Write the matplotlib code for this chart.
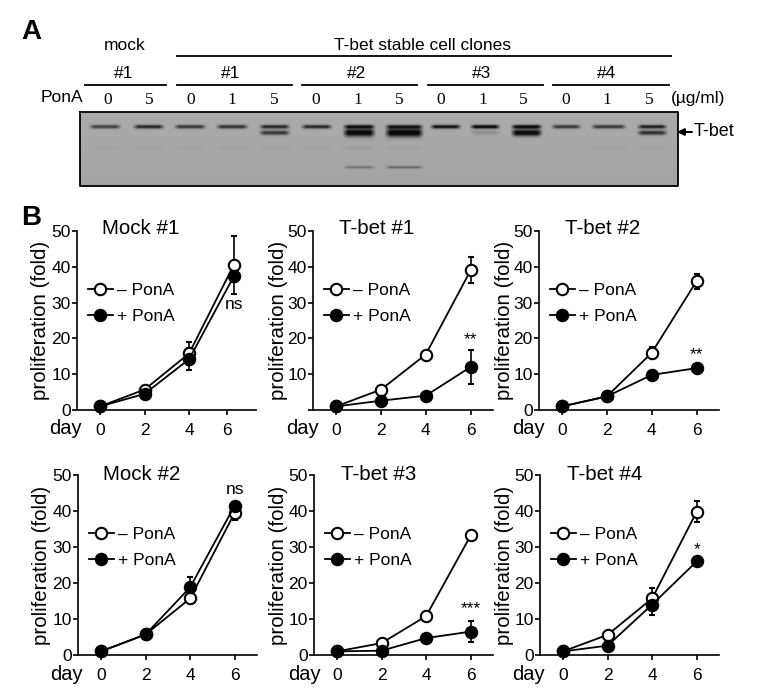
import numpy as np
import matplotlib
matplotlib.use('Agg')
import matplotlib.pyplot as plt

plt.rcParams['font.family'] = ['Liberation Sans', 'DejaVu Sans']

W, H = 759, 698

days = [0, 2, 4, 6]
panel_names = ['Mock #1', 'T-bet #1', 'T-bet #2', 'Mock #2', 'T-bet #3', 'T-bet #4']

minus_vals = [[1, 5.7, 15.8, 40.5], [1, 5.7, 15.5, 39], [1, 3.8, 16, 36],
              [1, 5.7, 15.7, 39.5], [1, 3.3, 10.8, 33.2], [1, 5.6, 15.7, 39.8]]
minus_err = [[0, 0.6, 3.3, 8.2], [0, 0.5, 0.6, 3.6], [0, 0.3, 1.6, 2.1],
             [0, 0.3, 1.2, 2.1], [0, 0.3, 0.6, 0.4], [0, 0.5, 2.8, 2.9]]
plus_vals = [[1, 4.5, 14.2, 37.3], [1, 2.6, 4, 12], [1, 3.8, 9.8, 11.7],
             [1, 5.7, 18.8, 41.5], [1, 1.2, 4.7, 6.5], [1, 2.6, 14, 26]]
plus_err = [[0, 0.3, 3.0, 1.5], [0, 0.3, 0.4, 4.7], [0, 0.3, 0.5, 0.5],
            [0, 0.3, 3.0, 0.5], [0, 0.3, 0.4, 2.9], [0, 0.4, 2.9, 0.6]]
sig_labels = ['ns', '**', '**', 'ns', '***', '*']
sig_y = [29.6, 19.6, 15.4, 46.1, 12.8, 29.4]

# blot: lane x ranges and band darkness
lane_left = [88, 132, 173, 215, 258, 300, 342, 384, 429, 469, 510, 550, 590, 636]
lane_right = [122, 165, 207, 249, 291, 333, 376, 424, 462, 501, 543, 582, 627, 668]
upper_band = [0.6, 0.75, 0.65, 0.7, 0.75, 0.75, 0.9, 0.8, 0.9, 1.0, 1.0, 0.65, 0.65, 0.8]
lower_band = [0, 0, 0, 0, 0.65, 0, 1.0, 1.0, 0, 0.14, 1.0, 0, 0, 0.7]
lower_thick = [1, 1, 1, 1, 1.2, 1, 2.0, 2.2, 1, 1.2, 1.7, 1, 1, 1.2]
smear_band = [0.03, 0.04, 0.03, 0.04, 0.04, 0.04, 0.06, 0.04, 0, 0, 0, 0, 0.04, 0.04]
low_band = [0, 0, 0, 0, 0, 0, 0.28, 0.35, 0, 0, 0, 0, 0, 0]

dose_labels = ['0', '5', '0', '1', '5', '0', '1', '5', '0', '1', '5', '0', '1', '5']
dose_x = [108, 149, 191, 232, 274, 316, 358, 399, 441, 483, 523, 566, 607, 649]
clone_labels = ['#1', '#1', '#2', '#3', '#4']
clone_x = [124, 231, 357, 482, 607]
clone_left = [85, 177, 302, 428, 553]
clone_right = [166, 292, 417, 543, 669]


def make_blot():
    ys = np.arange(112, 186, 0.5)
    xs = np.arange(80, 678, 0.5)
    img = np.full((len(ys), len(xs)), 0.67)
    img -= 0.03 * (ys[:, None] - 112) / 74
    for i in range(len(lane_left)):
        edge = np.clip((xs - lane_left[i]) / 6, 0, 1) * np.clip((lane_right[i] - xs) / 6, 0, 1)
        for dark, yc, sig in [(upper_band[i], 126.5, 1.3),
                              (lower_band[i], 132.5, 1.3 * lower_thick[i]),
                              (smear_band[i], 147.5, 1.5),
                              (low_band[i], 167, 0.9)]:
            if dark > 0:
                img -= 0.72 * dark * np.outer(np.exp(-(ys - yc) ** 2 / (2 * sig ** 2)), edge)
    return np.clip(img, 0.05, 1)


def px_axes(left, right, top, bottom):
    return fig.add_axes([left / W, 1 - bottom / H, (right - left) / W, (bottom - top) / H])


fig = plt.figure(figsize=(W / 100, H / 100), dpi=100)

# panel A, laid out in pixels
top = fig.add_axes([0, 0, 1, 1])
top.imshow(make_blot(), cmap='gray', vmin=0, vmax=1, extent=(80, 678, 186, 112),
           aspect='auto', interpolation='bilinear')
top.set_xlim(0, W)
top.set_ylim(H, 0)
top.axis('off')
top.plot([80, 678, 678, 80, 80], [112, 112, 186, 186, 112], color='black', lw=1.3)

top.text(21, 32, 'A', fontsize=20, fontweight='bold', va='center')
top.text(21, 218, 'B', fontsize=20, fontweight='bold', va='center')
top.text(125, 45, 'mock', fontsize=12.5, ha='center', va='center')
top.text(422, 45, 'T-bet stable cell clones', fontsize=12.5, ha='center', va='center')
top.plot([177, 671], [56, 56], color='black', lw=1.3)
for i in range(len(clone_labels)):
    top.text(clone_x[i], 74, clone_labels[i], fontsize=12.5, ha='center', va='center')
    top.plot([clone_left[i], clone_right[i]], [85, 85], color='black', lw=1.3)
top.text(41, 98, 'PonA', fontsize=12.5, va='center')
for i in range(len(dose_labels)):
    top.text(dose_x[i], 100, dose_labels[i], fontsize=12.5, family='Liberation Serif',
             ha='center', va='center')
top.text(671, 99, '(\u00b5g/ml)', fontsize=12.5, va='center')
top.text(694, 132, 'T-bet', fontsize=13, va='center')
top.annotate('', xy=(677, 132), xytext=(692, 132),
             arrowprops=dict(arrowstyle='-|>', color='black', lw=1.5, mutation_scale=10,
                             shrinkA=0, shrinkB=0))

# panel B, left/right/top/bottom of each set of axes in pixels
boxes = [(77, 256, 231, 410), (313, 493, 231, 410), (539, 719, 231, 410),
         (78, 257, 475, 655), (314, 493, 475, 655), (540, 719, 475, 655)]
title_x = [141, 377, 603, 142, 379, 605]
title_y = [229, 229, 229, 474, 474, 474]
ylabel_x = [41, 278, 504, 42, 278, 504]
day_x = [65, 302, 528, 66, 304, 528]
day_y = [428, 428, 428, 674, 674, 674]
# the "6" tick of Mock #1 sits left of its points in the original
tick_days = [[0, 2, 4, 5.7], days, days, days, days, days]

for i in range(6):
    left, right, y_top, y_bot = boxes[i]
    ax = px_axes(left, right, y_top, y_bot)
    ax.patch.set_alpha(0)
    ax.set_xlim(-1.03, 7)
    ax.set_ylim(0, 50)
    ax.spines['top'].set_visible(False)
    ax.spines['right'].set_visible(False)
    ax.spines['left'].set_linewidth(1.2)
    ax.spines['bottom'].set_linewidth(1.2)
    ax.set_xticks(tick_days[i])
    ax.set_xticklabels(['0', '2', '4', '6'])
    ax.set_yticks([0, 10, 20, 30, 40, 50])
    ax.set_yticklabels(['', '10', '20', '30', '40', '50'] if i == 1 else ['0', '10', '20', '30', '40', '50'])
    ax.tick_params(length=3.5, width=1.2, labelsize=12.5, pad=1)
    ax.tick_params(axis='x', pad=6)
    ax.set_ylabel('proliferation (fold)', fontsize=14.8, va='center')
    ax.yaxis.set_label_coords((ylabel_x[i] - left) / (right - left), 0.5)
    top.text(day_x[i], day_y[i], 'day', fontsize=14.5, ha='center', va='center')

    ax.errorbar(days, minus_vals[i], yerr=minus_err[i], color='black', mfc='white', mec='black',
                marker='o', ms=8.2, mew=1.5, lw=1.3, elinewidth=1.2, capsize=2.5, capthick=1.2,
                label='\u2013 PonA', clip_on=False)
    ax.errorbar(days, plus_vals[i], yerr=plus_err[i], color='black', mfc='black', mec='black',
                marker='o', ms=8.2, mew=1.5, lw=1.3, elinewidth=1.2, capsize=2.5, capthick=1.2,
                label='+ PonA', clip_on=False)
    ax.text(6, sig_y[i], sig_labels[i], fontsize=12.5, ha='center', va='center')
    top.text(title_x[i], title_y[i], panel_names[i], fontsize=14.8, ha='center', va='center')

    handles, labels = ax.get_legend_handles_labels()
    handles = [h[0] for h in handles]
    ax.legend(handles, labels, loc='upper left', bbox_to_anchor=(0.06, 0.71), frameon=False,
              fontsize=12.5, handlelength=1.45, handletextpad=0.25, labelspacing=0.63,
              borderpad=0, borderaxespad=0)

fig.savefig('out.png', dpi=100)
